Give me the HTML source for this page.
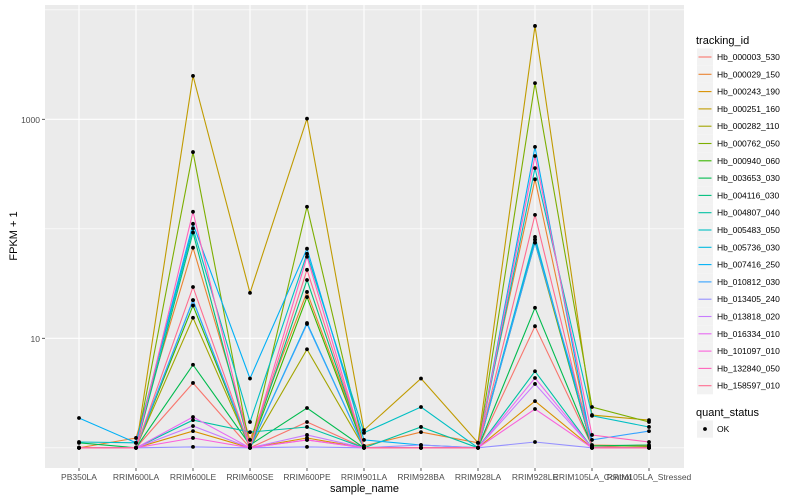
<!DOCTYPE html>
<html><head><meta charset="utf-8">
<style>
html,body{margin:0;padding:0;background:#fff;}
svg{display:block;font-family:"Liberation Sans",sans-serif;}
</style></head>
<body>
<svg id="chart" width="800" height="500" viewBox="0 0 800 500" xmlns="http://www.w3.org/2000/svg">
<rect x="45" y="5" width="639" height="463" fill="#EBEBEB"/>
<g id="grid"></g>
<g id="lines"></g>
<g id="points"></g>
<g id="axes"></g>
<g id="legend"></g>
</svg>
<script>
const categories = ["PB350LA","RRIM600LA","RRIM600LE","RRIM600SE","RRIM600PE","RRIM901LA","RRIM928BA","RRIM928LA","RRIM928LE","RRIM105LA_Control","RRIM105LA_Stressed"];
const seriesNames = ["Hb_000003_530","Hb_000029_150","Hb_000243_190","Hb_000251_160","Hb_000282_110","Hb_000762_050","Hb_000940_060","Hb_003653_030","Hb_004116_030","Hb_004807_040","Hb_005483_050","Hb_005736_030","Hb_007416_250","Hb_010812_030","Hb_013405_240","Hb_013818_020","Hb_016334_010","Hb_101097_010","Hb_132840_050","Hb_158597_010"];
const seriesColors = ["#F8766D","#EA8331","#D89000","#C09B00","#A3A500","#7CAE00","#39B600","#00BB4E","#00BF7D","#00C1A3","#00BFC4","#00BAE0","#00B0F6","#35A2FF","#9590FF","#C77CFF","#E76BF3","#FA62DB","#FF62BC","#FF6C90"];
const s00 = [1.0,1.0,3.91,1.0,1.72,1.0,1.0,1.0,12.9,1.04,1.0];
const s01 = [1.0,1.23,67.2,1.18,26.5,1.04,1.39,1.11,283,1.06,1.04];
const s02 = [1.0,1.0,1.42,1.0,1.23,1.0,1.0,1.0,2.67,1.0,1.02];
const s03 = [1.0,1.0,2490,26.0,1014,1.45,4.29,1.11,7120,1.99,1.79];
const s04 = [1.0,1.0,15.4,1.0,7.94,1.0,1.0,1.0,74.7,1.0,1.0];
const s05 = [1.0,1.0,502,1.0,159,1.0,1.0,1.0,2140,2.36,1.72];
const s06 = [1.0,1.0,19.9,1.0,23.8,1.0,1.0,1.0,79.8,1.0,1.02];
const s07 = [1.11,1.0,5.73,1.06,2.31,1.0,1.0,1.0,19.0,1.04,1.06];
const s08 = [1.0,1.0,92.4,1.0,34.1,1.0,1.0,1.0,79.8,1.0,1.0];
const s09 = [1.0,1.0,1.79,1.39,1.55,1.0,1.55,1.0,5.0,1.0,1.0];
const s10 = [1.13,1.11,101,1.72,59.2,1.37,2.36,1.0,358,1.96,1.55];
const s11 = [1.0,1.0,22.3,1.0,13.8,1.0,1.0,1.0,84.3,1.0,1.0];
const s12 = [1.87,1.11,111,4.29,65.8,1.18,1.06,1.0,560,1.0,1.0];
const s13 = [1.0,1.0,22.3,1.0,13.5,1.0,1.0,1.0,74.7,1.18,1.42];
const s14 = [1.0,1.0,1.02,1.0,1.02,1.0,1.06,1.0,1.13,1.0,1.0];
const s15 = [1.0,1.0,1.58,1.0,1.31,1.0,1.0,1.0,3.83,1.0,1.0];
const s16 = [1.0,1.0,1.91,1.0,1.18,1.0,1.0,1.0,4.34,1.0,1.0];
const s17 = [1.0,1.0,1.23,1.0,1.18,1.0,1.0,1.0,2.26,1.0,1.0];
const s18 = [1.0,1.0,143,1.0,55.6,1.0,1.0,1.0,462,1.31,1.13];
const s19 = [1.0,1.0,29.4,1.0,42.2,1.0,1.0,1.0,134,1.0,1.0];
const seriesValues = [s00,s01,s02,s03,s04,s05,s06,s07,s08,s09,s10,s11,s12,s13,s14,s15,s16,s17,s18,s19];
const yMajorTicks = [10,1000];
const yMajorLabels = ["10","1000"];
const yMinorTicks = [1,100,10000];

const NS = "http://www.w3.org/2000/svg";
function mk(tag, attrs, parent){const e=document.createElementNS(NS,tag);for(const k in attrs)e.setAttribute(k,attrs[k]);parent.appendChild(e);return e;}
function xScale(i){return 79 + i*57;}
function yScale(v){return 447.8 - Math.log10(v)*109.5;}

const grid=document.getElementById('grid');
yMinorTicks.forEach(v=>{const l=mk('line',{x1:45,x2:684,y1:yScale(v),y2:yScale(v),stroke:'#fff','stroke-width':0.6},grid);

});
yMajorTicks.forEach(v=>{const l=mk('line',{x1:45,x2:684,y1:yScale(v),y2:yScale(v),stroke:'#fff','stroke-width':1.1},grid);

});
categories.forEach((c,i)=>{const l=mk('line',{x1:xScale(i),x2:xScale(i),y1:5,y2:468,stroke:'#fff','stroke-width':1.1},grid);

});

const lines=document.getElementById('lines');
const pts=document.getElementById('points');
seriesValues.forEach((vals,si)=>{
  const d=vals.map((v,i)=>(i?'L':'M')+xScale(i).toFixed(1)+','+yScale(v).toFixed(1)).join(' ');
  const p=mk('path',{d:d,fill:'none',stroke:seriesColors[si],'stroke-width':1.1},lines);
  
  
  vals.forEach((v,i)=>{const c=mk('circle',{cx:xScale(i),cy:yScale(v),r:1.9,fill:'#000'},pts);
  
  });
});

const axes=document.getElementById('axes');
yMajorTicks.forEach((v,i)=>{
  const t=mk('line',{x1:42,x2:45,y1:yScale(v),y2:yScale(v),stroke:'#333','stroke-width':0.8},axes);
  
  
  const tx=mk('text',{x:40,y:yScale(v)+3.5,'text-anchor':'end','font-size':8.5,fill:'#4d4d4d'},axes);
  tx.textContent=yMajorLabels[i];
  
  
});
categories.forEach((c,i)=>{
  const t=mk('line',{x1:xScale(i),x2:xScale(i),y1:468,y2:471,stroke:'#333','stroke-width':0.8},axes);
  
  
  const tx=mk('text',{x:xScale(i),y:480,'text-anchor':'middle','font-size':8.5,fill:'#4d4d4d'},axes);
  tx.textContent=c;
  
  
});
const xt=mk('text',{x:364.5,y:492,'text-anchor':'middle','font-size':11,fill:'#000'},axes);
xt.textContent='sample_name';


const yt=mk('text',{x:0,y:0,'text-anchor':'middle','font-size':11,fill:'#000',transform:'translate(17,236) rotate(-90)'},axes);
yt.textContent='FPKM + 1';



const leg=document.getElementById('legend');
const lt=mk('text',{x:696,y:44,'font-size':11,fill:'#000'},leg);
lt.textContent='tracking_id';


seriesNames.forEach((n,i)=>{
  const cy=57+i*17.3;
  const g=mk('g',{},leg);
  
  
  mk('rect',{x:697,y:cy-8.6,width:16,height:17.2,fill:'#F2F2F2'},g);
  mk('line',{x1:698.5,x2:711.5,y1:cy,y2:cy,stroke:seriesColors[i],'stroke-width':1.1},g);
  const tx=mk('text',{x:717,y:cy+3,'font-size':8.5,fill:'#000'},g);
  tx.textContent=n;
});
const qt=mk('text',{x:696,y:416,'font-size':11,fill:'#000'},leg);
qt.textContent='quant_status';


const og=mk('g',{},leg);


mk('rect',{x:697,y:420.5,width:16,height:17.2,fill:'#F2F2F2'},og);
mk('circle',{cx:705,cy:429,r:1.9,fill:'#000'},og);
const ot=mk('text',{x:717,y:432,'font-size':8.5,fill:'#000'},og);
ot.textContent='OK';
</script>
</body></html>
